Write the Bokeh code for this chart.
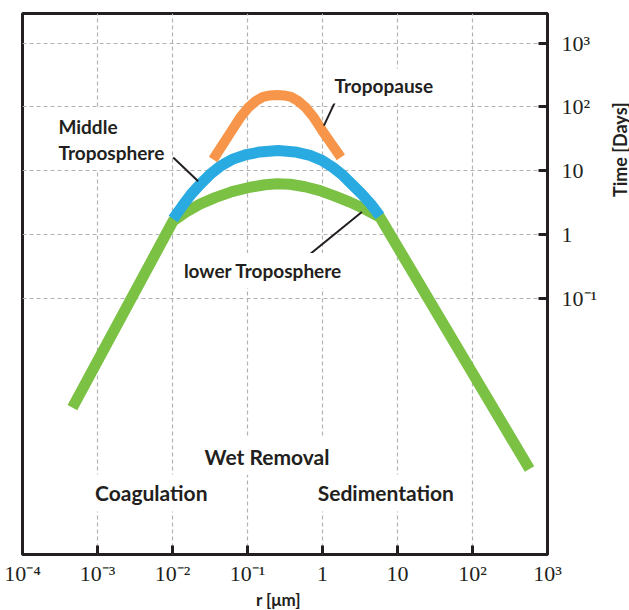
import math
from bokeh.plotting import figure
from bokeh.layouts import row, column
from bokeh.models import Range1d, FixedTicker, Label
from bokeh.embed import file_html
from bokeh.resources import INLINE

# ---------------- data ----------------
lower_r = [4.63e-4, 0.0102, 0.0152, 0.0234, 0.0370, 0.0623, 0.108, 0.171, 0.247,
           0.369, 0.584, 0.924, 1.464, 2.317, 3.669, 5.812, 576]
lower_t = [1.99e-3, 1.65, 2.28, 3.03, 3.82, 4.74, 5.56, 6.08, 6.30,
           6.19, 5.66, 4.91, 4.03, 3.25, 2.53, 1.90, 2.17e-4]

middle_r = [0.0102, 0.0135, 0.0177, 0.0234, 0.0318, 0.0432, 0.0623, 0.0928, 0.147, 0.255,
            0.430, 0.681, 0.983, 1.376, 1.870, 2.541, 3.347, 4.411, 5.812]
middle_t = [1.77, 2.82, 4.33, 6.19, 8.85, 11.78, 15.13, 17.77, 19.79, 20.88,
            19.79, 17.46, 14.60, 11.37, 8.54, 5.97, 4.33, 3.03, 1.97]

tropo_r = [0.0348, 0.0459, 0.0605, 0.0796, 0.1018, 0.130, 0.161, 0.200, 0.247,
           0.307, 0.380, 0.471, 0.602, 0.769, 1.013, 1.335, 1.759]
tropo_t = [15.1, 25.0, 41.2, 68.0, 97.1, 124.7, 143.9, 151.8, 154.6,
           151.8, 143.9, 124.7, 97.1, 68.0, 41.2, 25.9, 16.3]

x_ticks = [1e-4, 1e-3, 1e-2, 1e-1, 1, 10, 100, 1000]
x_labels = ["10\u207b\u2074", "10\u207b\u00b3", "10\u207b\u00b2", "10\u207b\u00b9", "1", "10", "10\u00b2", "10\u00b3"]
y_ticks = [0.1, 1, 10, 100, 1000]
y_labels = ["10\u207b\u00b9", "1", "10", "10\u00b2", "10\u00b3"]

X_MIN, X_MAX = 1e-4, 1e3
Y_MIN, Y_MAX = 1e-5, 2900

TOTAL_W, TOTAL_H = 629, 610
MAIN_W, MAIN_H = 600, 588
LEFT, RIGHT, TOP, BOTTOM = 22, 548, 13, 558

INK = "#231f20"
FONT = "Lato"


def at(xp, yp):
    """screen pixel -> data coordinates (for annotation placement)"""
    lx0, lx1 = math.log10(X_MIN), math.log10(X_MAX)
    ly0, ly1 = math.log10(Y_MIN), math.log10(Y_MAX)
    lx = lx0 + (lx1 - lx0) * (xp - LEFT) / (RIGHT - LEFT)
    ly = ly1 - (ly1 - ly0) * (yp - TOP) / (BOTTOM - TOP)
    return 10 ** lx, 10 ** ly


p = figure(width=MAIN_W, height=MAIN_H, x_axis_type="log", y_axis_type="log",
           y_axis_location="right", output_backend="svg", toolbar_location=None,
           x_range=Range1d(X_MIN, X_MAX), y_range=Range1d(Y_MIN, Y_MAX),
           min_border_left=LEFT, min_border_right=MAIN_W - RIGHT,
           min_border_top=TOP, min_border_bottom=MAIN_H - BOTTOM)
p.background_fill_color = "white"
p.border_fill_color = "white"
p.outline_line_color = INK
p.outline_line_width = 3

xa = p.xaxis[0]
xa.ticker = FixedTicker(ticks=x_ticks, minor_ticks=[])
xa.major_label_overrides = {t: l for t, l in zip(x_ticks, x_labels)}
xa.axis_line_color = None
xa.major_tick_in = 9
xa.major_tick_out = 0
xa.major_tick_line_width = 3
xa.major_tick_line_color = INK
xa.minor_tick_line_color = None
xa.major_label_text_font = "Liberation Serif"
xa.major_label_text_font_size = "22px"
xa.major_label_text_color = INK
xa.major_label_standoff = 6

ya = p.yaxis[0]
ya.ticker = FixedTicker(ticks=y_ticks, minor_ticks=[])
ya.major_label_overrides = {t: l for t, l in zip(y_ticks, y_labels)}
ya.axis_line_color = None
ya.major_tick_in = 9
ya.major_tick_out = 0
ya.major_tick_line_width = 3
ya.major_tick_line_color = INK
ya.minor_tick_line_color = None
ya.major_label_text_font = "Liberation Serif"
ya.major_label_text_font_size = "22px"
ya.major_label_text_color = INK
ya.major_label_standoff = 14

p.xgrid.ticker = FixedTicker(ticks=x_ticks[1:-1], minor_ticks=[])
p.ygrid.ticker = FixedTicker(ticks=y_ticks, minor_ticks=[])
for g in (p.xgrid[0], p.ygrid[0]):
    g.grid_line_color = "#b3b3b3"
    g.grid_line_dash = "4 3"
    g.grid_line_width = 1.2

# curves
p.line(lower_r, lower_t, line_width=11, line_color="#7BC143", line_cap="butt", line_join="round")
p.line(middle_r, middle_t, line_width=11, line_color="#29ABE2", line_cap="butt", line_join="round")
p.line(tropo_r, tropo_t, line_width=10, line_color="#F7964A", line_cap="butt", line_join="round")

# leader lines
leaders = [((338, 96), (324, 126)), ((173, 158), (198, 182)), ((302, 262), (362, 213))]
x0s, y0s, x1s, y1s = [], [], [], []
for (a, b) in leaders:
    xa0, ya0 = at(*a)
    xb0, yb0 = at(*b)
    x0s.append(xa0); y0s.append(ya0); x1s.append(xb0); y1s.append(yb0)
p.segment(x0s, y0s, x1s, y1s, line_color=INK, line_width=2)


def add_label(text, xp, yp, size, align="center"):
    x, y = at(xp, yp)
    p.add_layout(Label(x=x, y=y, text=text, text_font=FONT, text_font_style="bold",
                       text_font_size=size, text_color=INK, text_align=align,
                       text_baseline="middle", background_fill_color="white", padding=6))


add_label("Tropopause", 384, 86, "19px")
add_label("Middle", 52, 127, "19px", align="left")
add_label("Troposphere", 52, 153, "19px", align="left")
add_label("lower Troposphere", 263, 272, "19px")
add_label("Wet Removal", 267, 459, "21px")
add_label("Coagulation", 151, 496, "21px")
add_label("Sedimentation", 386, 496, "21px")


def strip(w, h):
    f = figure(width=w, height=h, x_range=Range1d(0, w), y_range=Range1d(0, h),
               x_axis_location=None, y_axis_location=None, min_border=0,
               output_backend="svg", toolbar_location=None)
    f.grid.visible = False
    f.outline_line_color = None
    f.background_fill_color = "white"
    f.border_fill_color = "white"
    return f


# right strip: rotated y-axis title, placed high as in the reference
side = strip(TOTAL_W - MAIN_W, MAIN_H)
side.add_layout(Label(x=19, y=MAIN_H - 148, text="Time [Days]", angle=math.pi / 2,
                      text_font=FONT, text_font_style="bold", text_font_size="18px",
                      text_color=INK, text_align="center", text_baseline="middle"))

# bottom strip: x-axis title
BOT_H = TOTAL_H - MAIN_H
bottom = strip(TOTAL_W, BOT_H)
bottom.add_layout(Label(x=278, y=BOT_H / 2, text="r [\u03bcm]",
                        text_font=FONT, text_font_style="bold", text_font_size="17px",
                        text_color=INK, text_align="center", text_baseline="middle"))

root = column(row(p, side), bottom)
open("out.html", "w").write(file_html(root, INLINE))
